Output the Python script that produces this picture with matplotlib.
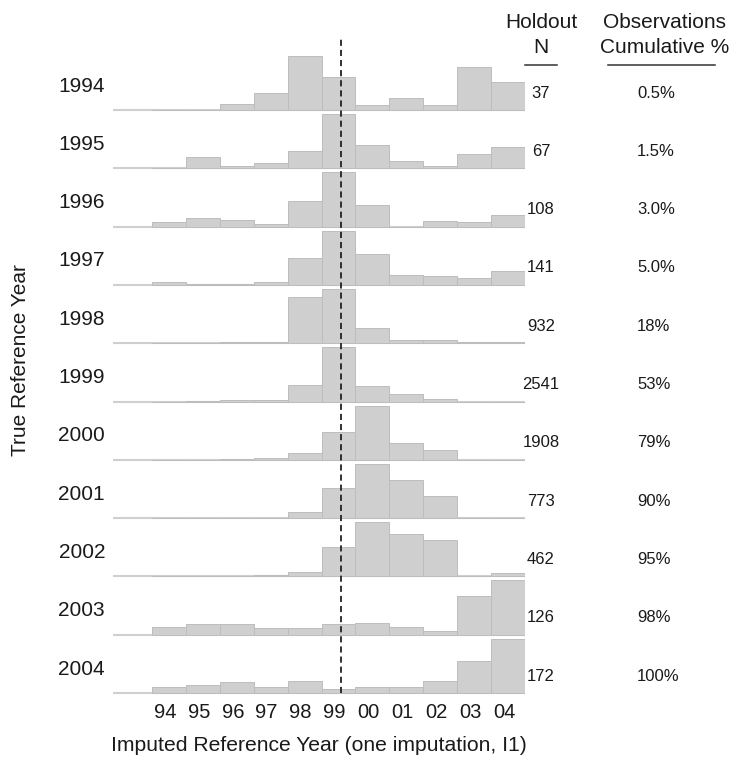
import matplotlib
matplotlib.use("Agg")
import matplotlib.pyplot as plt
from matplotlib.lines import Line2D
from matplotlib.transforms import blended_transform_factory, ScaledTranslation

plt.rcParams['font.family'] = ['Liberation Sans', 'DejaVu Sans']

# ---------------- data ----------------
true_years = ["1994", "1995", "1996", "1997", "1998", "1999",
              "2000", "2001", "2002", "2003", "2004"]
imputed_labels = ["94", "95", "96", "97", "98", "99",
                  "00", "01", "02", "03", "04"]

# relative bar heights (percent of each row's tallest bar), imputed year 94..04
h1994 = [0, 0, 11, 32, 100, 61, 10, 22, 10, 80, 52]
h1995 = [0, 20, 5, 10, 31, 100, 43, 14, 5, 26, 39]
h1996 = [9, 16, 12, 4.5, 48, 100, 39, 0, 11, 8, 22]
h1997 = [5, 2, 2, 5, 49, 100, 57, 19, 17, 12, 25]
h1998 = [0.6, 1, 2, 3, 86, 100, 28, 6, 5, 1.3, 2]
h1999 = [0, 0.6, 2, 3, 31, 100, 29, 13, 5, 0, 0]
h2000 = [0, 0, 2, 4, 12, 51, 100, 31, 18, 0, 0]
h2001 = [0, 0.6, 1, 1, 11, 55, 100, 70, 41, 0, 0]
h2002 = [0, 0, 0, 3, 8, 55, 100, 79, 68, 0, 5.6]
h2003 = [13.5, 20, 20, 12.4, 12.4, 20, 21.5, 13.5, 6, 71, 100]
h2004 = [11, 15, 21, 11, 22, 8, 11, 10.5, 23, 59, 100]
rows = [h1994, h1995, h1996, h1997, h1998, h1999,
        h2000, h2001, h2002, h2003, h2004]

holdout_n = [37, 67, 108, 141, 932, 2541, 1908, 773, 462, 126, 172]
cumulative_pct = ["0.5%", "1.5%", "3.0%", "5.0%", "18%", "53%",
                  "79%", "90%", "95%", "98%", "100%"]

# ---------------- layout ----------------
W, H = 734, 757
fig = plt.figure(figsize=(W / 100, H / 100), dpi=100)

px_left, px_right = 113, 525
row_px = 58.3
top_base_px = 110
n = len(true_years)
y_top, y_bot = 1.3, 0.1
top_px = top_base_px - y_top * row_px
bot_px = top_base_px + (n - 1) * row_px + y_bot * row_px
ax = fig.add_axes([px_left / W, 1 - bot_px / H,
                   (px_right - px_left) / W, (bot_px - top_px) / H])
ax.set_xlim(-1.65, 10.5)
ax.set_ylim(-y_bot, n - 1 + y_top)

bar_fill = '#cfcfcf'
bar_edge = '#bdbdbd'
text_col = '#1a1a1a'
xs = list(range(len(imputed_labels)))

for k, vals in enumerate(rows):
    base = n - 1 - k
    mx = max(vals)
    heights = [v / mx * 0.93 for v in vals]
    ax.plot([-1.65, 10.5], [base, base], color='#cfcfcf', lw=1.5,
            solid_capstyle='butt', zorder=1, clip_on=False)
    ax.bar(xs, heights, bottom=base, width=1.0, color=bar_fill,
           edgecolor=bar_edge, linewidth=0.7, zorder=2)

# dashed reference line at true = imputed 1999
ax.plot([5.07, 5.07], [0, n - 1 + 1.25], color='#222222', lw=1.3,
        linestyle=(0, (3.4, 2.2)), zorder=5, clip_on=False)

# row labels
tr_lab = blended_transform_factory(ax.transAxes, ax.transData)
tr_fig = blended_transform_factory(fig.transFigure, ax.transData)
for k, yr in enumerate(true_years):
    base = n - 1 - k
    ax.text(-8 / (px_right - px_left), base + 0.41, yr, transform=tr_lab,
            ha='right', va='center', fontsize=15, color=text_col)
    ax.text(541 / W, base + 0.29, str(holdout_n[k]), transform=tr_fig,
            ha='center', va='center', fontsize=12, color=text_col)
    ax.text(637 / W, base + 0.29, cumulative_pct[k], transform=tr_fig,
            ha='left', va='center', fontsize=12, color=text_col)

# column headers
fig.text(541 / W, 1 - 22.5 / H, "Holdout", ha='center', va='center',
         fontsize=15, color=text_col)
fig.text(541 / W, 1 - 47.5 / H, "N", ha='center', va='center',
         fontsize=15, color=text_col)
fig.text(664 / W, 1 - 22.5 / H, "Observations", ha='center', va='center',
         fontsize=15, color=text_col)
fig.text(665 / W, 1 - 47.5 / H, "Cumulative %", ha='center', va='center',
         fontsize=15, color=text_col)
fig.add_artist(Line2D([525 / W, 557 / W], [1 - 65 / H, 1 - 65 / H],
                      color='#333333', lw=1.1))
fig.add_artist(Line2D([608 / W, 715 / W], [1 - 65 / H, 1 - 65 / H],
                      color='#333333', lw=1.1))

# axes
ax.set_xticks(xs)
ax.set_xticklabels(imputed_labels, fontsize=14.5, color=text_col)
ax.tick_params(axis='x', length=0, pad=3)
shift = ScaledTranslation(-4 / 100, 0, fig.dpi_scale_trans)
for lab in ax.get_xticklabels():
    lab.set_transform(lab.get_transform() + shift)
ax.set_yticks([])
for s in ax.spines.values():
    s.set_visible(False)
ax.set_xlabel("Imputed Reference Year (one imputation, I1)", fontsize=15.2,
              color=text_col, labelpad=10)
fig.text(21 / W, 1 - 360 / H, "True Reference Year", rotation=90,
         ha='center', va='center', fontsize=15, color=text_col)

fig.savefig("out.png", dpi=100)
